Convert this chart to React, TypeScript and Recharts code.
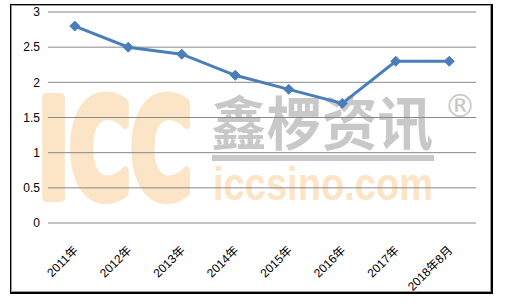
import React from 'react';
import { LineChart, Line, XAxis, YAxis, CartesianGrid } from 'recharts';

const categories = ['2011年', '2012年', '2013年', '2014年', '2015年', '2016年', '2017年', '2018年8月'];
const values = [2.8, 2.5, 2.4, 2.1, 1.9, 1.7, 2.3, 2.3];
const yTicks = [0, 0.5, 1, 1.5, 2, 2.5, 3];

const data = categories.map((c, i) => ({ name: c, value: values[i] }));

const BLUE = '#4a7ebb';

const Diamond = (props: any) => {
  const { cx, cy } = props;
  if (cx == null || cy == null) return null;
  const r = 5;
  return (
    <polygon
      points={`${cx},${cy - r} ${cx + r},${cy} ${cx},${cy + r} ${cx - r},${cy}`}
      fill={BLUE}
      stroke={BLUE}
      strokeWidth={1}
    />
  );
};

const XTick = (props: any) => {
  const { x, y, payload } = props;
  return (
    <g transform={`translate(${x + 1},${y + 17})`}>
      <text
        x={0}
        y={0}
        dy="0.35em"
        textAnchor="end"
        transform="rotate(-45)"
        fontSize={12}
        fill="#000"
        fontFamily="'Liberation Sans', 'Noto Sans CJK SC', sans-serif"
      >
        {payload.value}
      </text>
    </g>
  );
};

const Watermark = () => (
  <svg width={506} height={304} style={{ position: 'absolute', left: 0, top: 0 }}>
    <text
      x={38}
      y={197}
      fontSize={136}
      fontWeight={700}
      fill="#fce5c6"
      stroke="#fce5c6"
      strokeWidth={10}
      strokeLinejoin="round"
      fontFamily="'DejaVu Sans Condensed', 'DejaVu Sans', sans-serif"
      textLength={154}
      lengthAdjust="spacingAndGlyphs"
    >
      ICC
    </text>
    <text
      x={211}
      y={145}
      fontSize={58}
      fontWeight={700}
      fill="#c8c8c8"
      fontFamily="'Noto Sans CJK SC', sans-serif"
      textLength={222}
      lengthAdjust="spacingAndGlyphs"
    >
      鑫椤资讯
    </text>
    <rect x={212} y={155} width={222} height={6} fill="#c8c8c8" />
    <text
      x={444}
      y={117}
      fontSize={32}
      fill="#c8c8c8"
      fontFamily="'DejaVu Sans', sans-serif"
    >
      ®
    </text>
    <text
      x={213}
      y={200}
      fontSize={46}
      fontWeight={700}
      fill="#fce5c6"
      fontFamily="'Liberation Sans', sans-serif"
      textLength={220}
      lengthAdjust="spacingAndGlyphs"
    >
      iccsino.com
    </text>
  </svg>
);

export default function App() {
  return (
    <div style={{ position: 'absolute', left: 0, top: 0, width: 506, height: 304, background: '#fff' }}>
      <div
        style={{
          position: 'absolute',
          left: 10,
          top: 4,
          width: 480,
          height: 287,
          border: '1px solid #000',
          borderRightWidth: 2,
          borderBottomWidth: 2,
          boxShadow: 'inset 0 0 0 1px #9a9a9a',
        }}
      />
      <Watermark />
      <div style={{ position: 'absolute', left: 0, top: 0 }}>
        <LineChart width={506} height={304} data={data} margin={{ top: 12, right: 30, bottom: 21, left: 8 }}>
          <CartesianGrid vertical={false} stroke="#888888" strokeWidth={1} />
          <XAxis
            dataKey="name"
            axisLine={false}
            tickLine={false}
            interval={0}
            height={60}
            padding={{ left: 26.75, right: 26.75 }}
            tick={<XTick />}
          />
          <YAxis
            domain={[0, 3]}
            ticks={yTicks}
            axisLine={false}
            tickLine={false}
            width={40}
            tick={{ fontSize: 12, fill: '#000', fontFamily: "'Liberation Sans', sans-serif" }}
          />
          <Line
            type="linear"
            dataKey="value"
            stroke={BLUE}
            strokeWidth={3}
            dot={<Diamond />}
            activeDot={false}
            isAnimationActive={false}
          />
        </LineChart>
      </div>
    </div>
  );
}
